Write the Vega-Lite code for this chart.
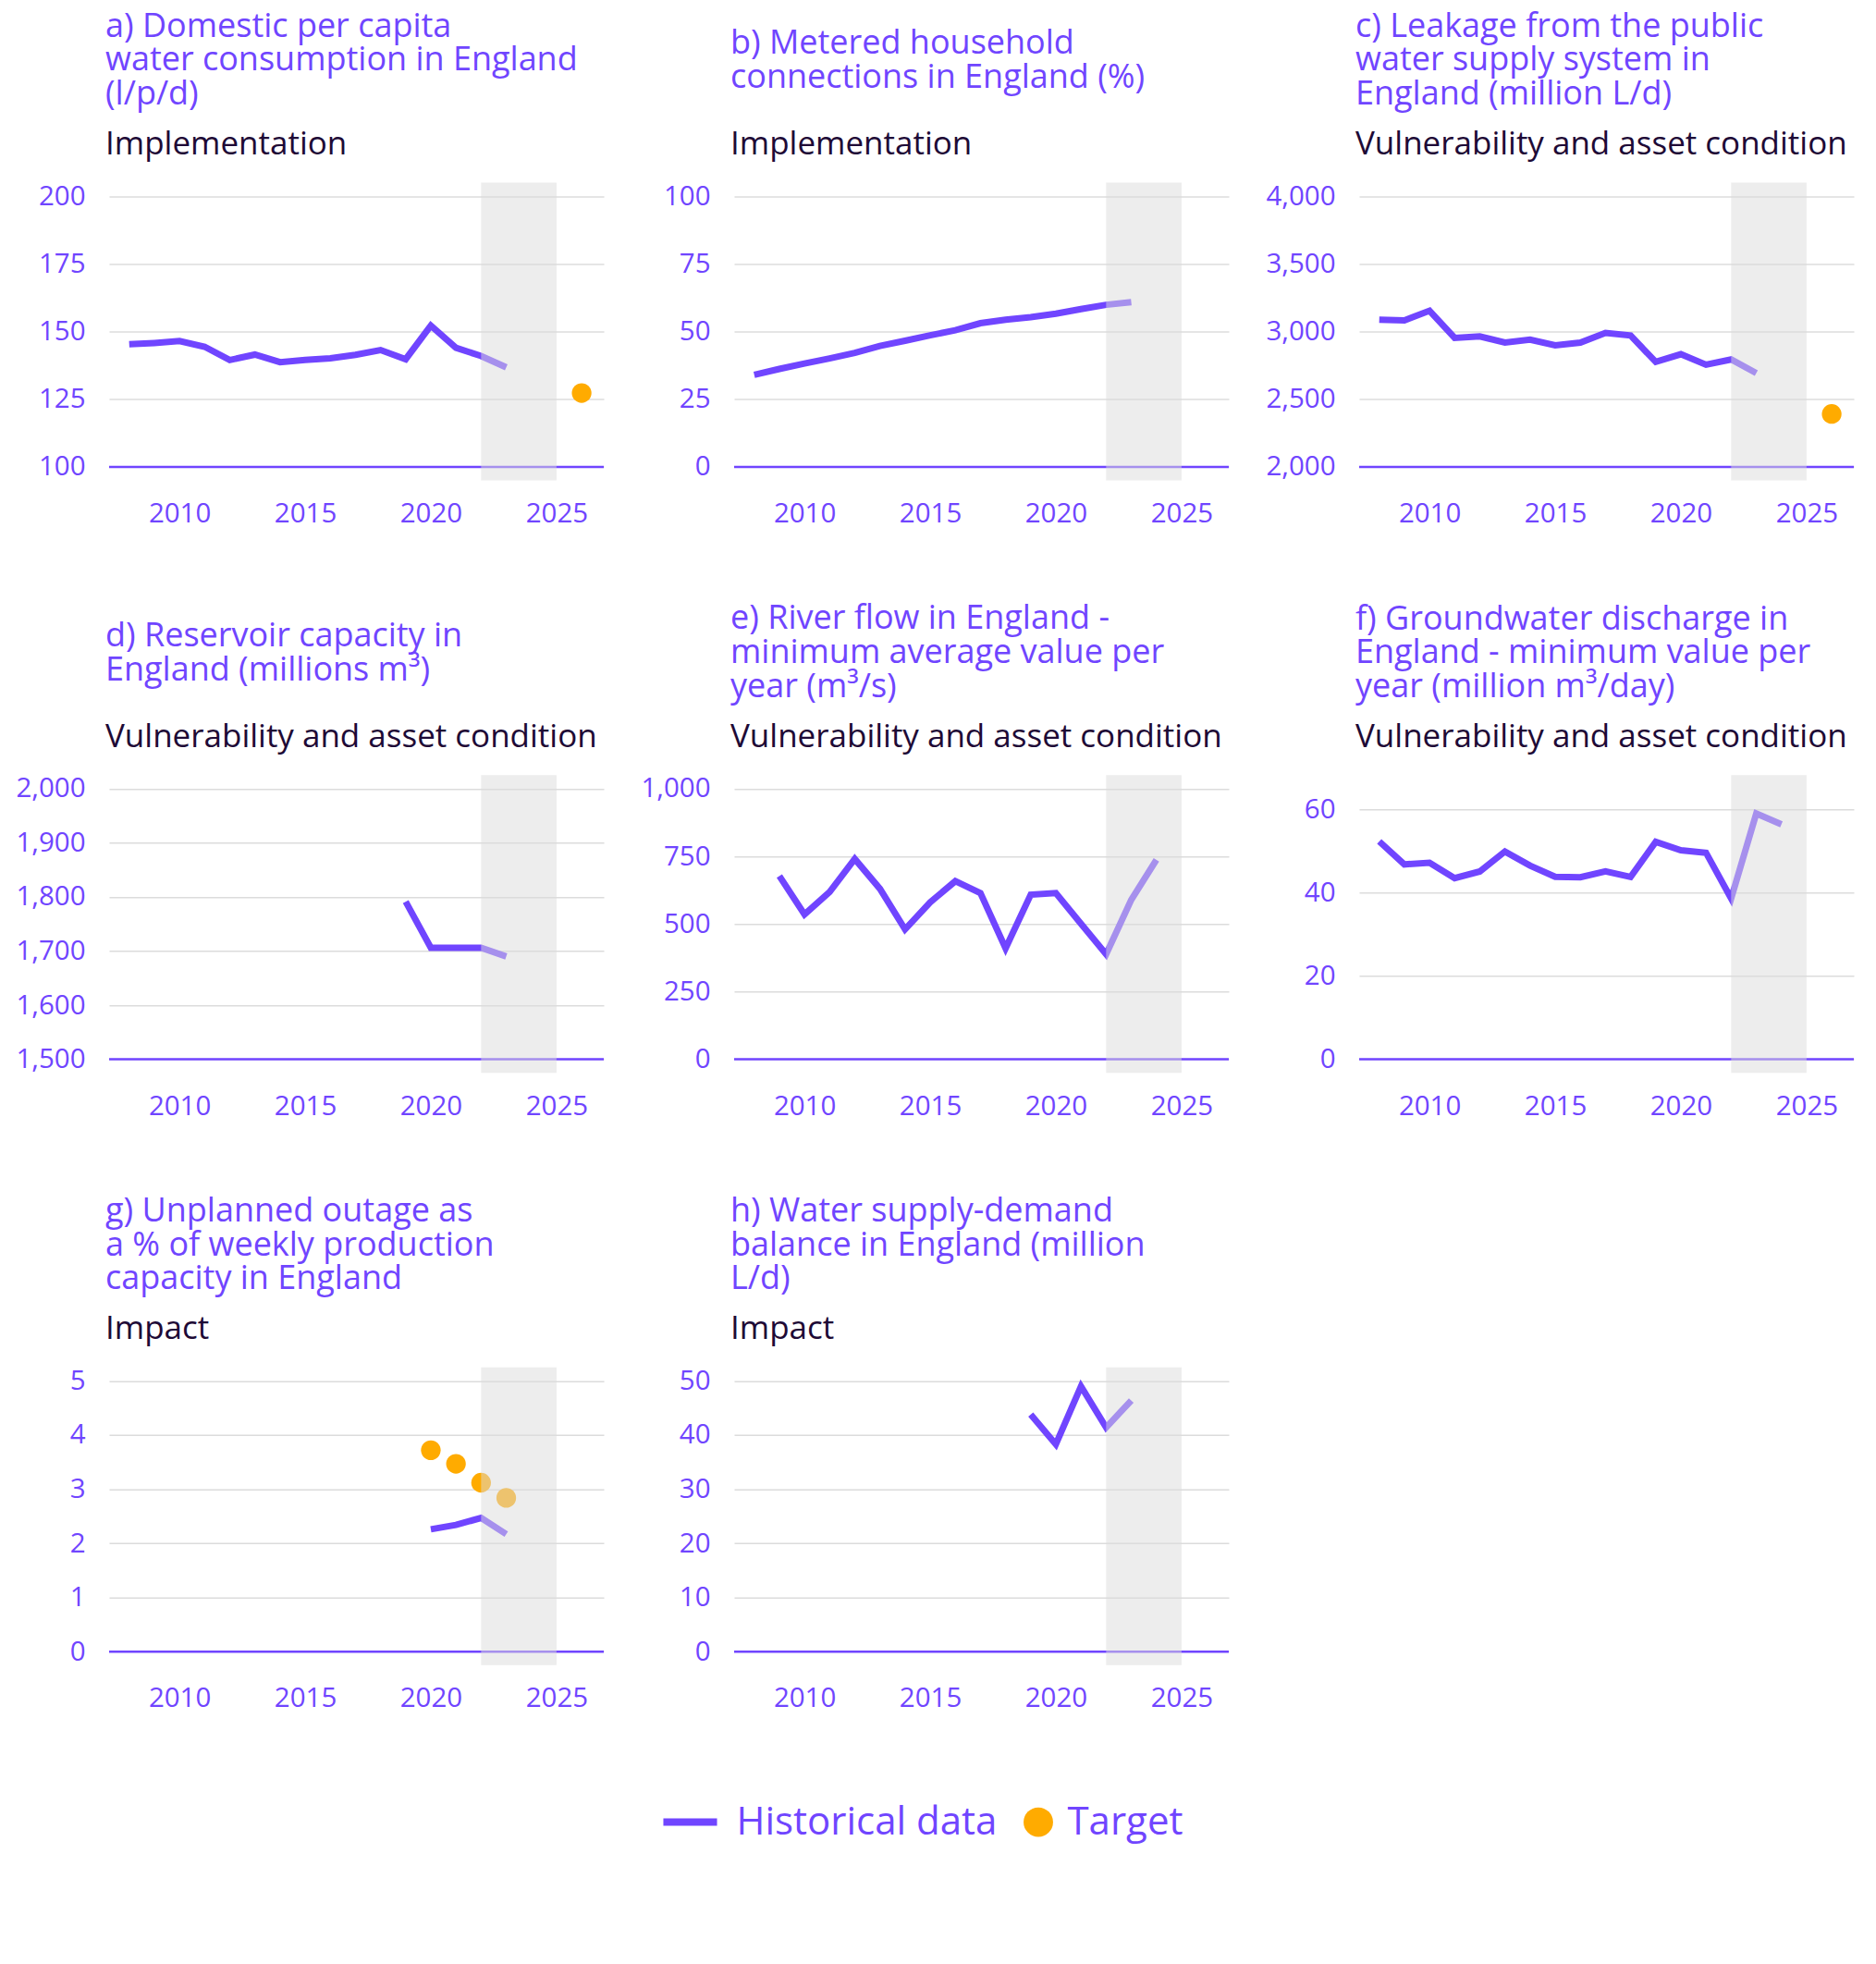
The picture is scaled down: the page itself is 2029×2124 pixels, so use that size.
{
  "$schema": "https://vega.github.io/schema/vega-lite/v6.json",
  "background": "white",
  "padding": {"left": 16, "top": 10.6, "right": 5, "bottom": 5},
  "datasets": {
    "band": [{"start": 2022, "end": 2025}],
    "a": [{"year":2008,"value":145.3},{"year":2009,"value":145.8},{"year":2010,"value":146.5},{"year":2011,"value":144.4},{"year":2012,"value":139.5},{"year":2013,"value":141.5},{"year":2014,"value":138.7},{"year":2015,"value":139.5},{"year":2016,"value":140.1},{"year":2017,"value":141.4},{"year":2018,"value":143.2},{"year":2019,"value":139.8},{"year":2020,"value":152.2},{"year":2021,"value":144.0},{"year":2022,"value":141.0},{"year":2023,"value":136.8}],
    "a_target": [{"year":2026,"value":127.3}],
    "b": [{"year":2008,"value":34.0},{"year":2009,"value":36.2},{"year":2010,"value":38.2},{"year":2011,"value":40.1},{"year":2012,"value":42.1},{"year":2013,"value":44.7},{"year":2014,"value":46.6},{"year":2015,"value":48.6},{"year":2016,"value":50.5},{"year":2017,"value":53.1},{"year":2018,"value":54.4},{"year":2019,"value":55.3},{"year":2020,"value":56.6},{"year":2021,"value":58.3},{"year":2022,"value":59.9},{"year":2023,"value":60.9}],
    "c": [{"year":2008,"value":3088},{"year":2009,"value":3083},{"year":2010,"value":3154},{"year":2011,"value":2953},{"year":2012,"value":2964},{"year":2013,"value":2919},{"year":2014,"value":2940},{"year":2015,"value":2898},{"year":2016,"value":2919},{"year":2017,"value":2990},{"year":2018,"value":2971},{"year":2019,"value":2776},{"year":2020,"value":2833},{"year":2021,"value":2755},{"year":2022,"value":2794},{"year":2023,"value":2693}],
    "c_target": [{"year":2026,"value":2391}],
    "d": [{"year":2019,"value":1791},{"year":2020,"value":1706},{"year":2021,"value":1706},{"year":2022,"value":1706},{"year":2023,"value":1690}],
    "e": [{"year":2009,"value":677},{"year":2010,"value":535},{"year":2011,"value":618},{"year":2012,"value":740},{"year":2013,"value":630},{"year":2014,"value":480},{"year":2015,"value":580},{"year":2016,"value":658},{"year":2017,"value":614},{"year":2018,"value":410},{"year":2019,"value":608},{"year":2020,"value":614},{"year":2021,"value":501},{"year":2022,"value":388},{"year":2023,"value":589},{"year":2024,"value":737}],
    "f": [{"year":2008,"value":52.3},{"year":2009,"value":46.8},{"year":2010,"value":47.2},{"year":2011,"value":43.5},{"year":2012,"value":45.1},{"year":2013,"value":49.9},{"year":2014,"value":46.5},{"year":2015,"value":43.8},{"year":2016,"value":43.7},{"year":2017,"value":45.1},{"year":2018,"value":43.8},{"year":2019,"value":52.2},{"year":2020,"value":50.2},{"year":2021,"value":49.6},{"year":2022,"value":38.6},{"year":2023,"value":59.0},{"year":2024,"value":56.4}],
    "g": [{"year":2020,"value":2.26},{"year":2021,"value":2.34},{"year":2022,"value":2.47},{"year":2023,"value":2.17}],
    "g_target": [{"year":2020,"value":3.72},{"year":2021,"value":3.47},{"year":2022,"value":3.12},{"year":2023,"value":2.84}],
    "h": [{"year":2019,"value":43.8},{"year":2020,"value":38.3},{"year":2021,"value":49.0},{"year":2022,"value":41.4},{"year":2023,"value":46.4}]
  },
  "columns": 3,
  "bounds": "flush",
  "align": "all",
  "spacing": {"row": 318.6, "column": 141},
  "concat": [
    {
      "width": 535, "height": 322,
      "title": {"text": ["a) Domestic per capita", "water consumption in England", "(l/p/d)"], "subtitle": "Implementation"},
      "layer": [
        {"data": {"name": "a"}, "mark": {"type": "line", "strokeWidth": 7},
         "encoding": {
           "x": {"field": "year", "type": "quantitative", "title": null, "scale": {"domain": [2007.2, 2026.88], "nice": false, "zero": false}, "axis": {"values": [2010, 2015, 2020, 2025], "format": "d"}},
           "y": {"field": "value", "type": "quantitative", "title": null, "scale": {"domain": [95, 205], "nice": false, "zero": false}, "axis": {"values": [100, 125, 150, 175, 200]}},
           "color": {"datum": "Historical data", "type": "nominal", "scale": {"domain": ["Historical data", "Target"], "range": ["#7045FF", "#FFAB00"]},
             "legend": {"title": null, "orient": "bottom", "direction": "horizontal", "offset": 98, "labelFontSize": 42, "labelColor": "#7045FF", "labelFont": "Open Sans", "labelLimit": 800, "symbolSize": 1018, "labelOffset": 10.5, "columnPadding": 23,
               "encode": {"symbols": {"update": {
                 "shape": {"signal": "datum.value === 'Target' ? 'circle' : 'M-2.98,-0.25H0.66V0.25H-2.98Z'"},
                 "fill": {"signal": "datum.value === 'Target' ? '#FFAB00' : '#7045FF'"},
                 "fillOpacity": {"value": 1}, "opacity": {"value": 1},
                 "stroke": {"value": "transparent"}, "strokeWidth": {"value": 0}}}}}}
         }},
        {"data": {"name": "a_target"}, "mark": {"type": "circle", "size": 452, "opacity": 1},
         "encoding": {"x": {"field": "year", "type": "quantitative", "title": null}, "y": {"field": "value", "type": "quantitative", "title": null}, "color": {"datum": "Target", "type": "nominal"}}},
        {"data": {"name": "band"}, "mark": {"type": "rule", "color": "#7045FF", "strokeWidth": 2.5},
         "encoding": {"y": {"datum": 100, "type": "quantitative", "title": null}}},
        {"data": {"name": "band"}, "mark": {"type": "rect", "color": "#dcdcdc", "opacity": 0.5},
         "encoding": {"x": {"field": "start", "type": "quantitative", "title": null}, "x2": {"field": "end"}}}
      ]
    },
    {
      "width": 535, "height": 322,
      "title": {"text": ["b) Metered household", "connections in England (%)"], "subtitle": "Implementation", "subtitlePadding": 36.3},
      "layer": [
        {"data": {"name": "b"}, "mark": {"type": "line", "strokeWidth": 7},
         "encoding": {
           "x": {"field": "year", "type": "quantitative", "title": null, "scale": {"domain": [2007.2, 2026.88], "nice": false, "zero": false}, "axis": {"values": [2010, 2015, 2020, 2025], "format": "d"}},
           "y": {"field": "value", "type": "quantitative", "title": null, "scale": {"domain": [-5, 105], "nice": false, "zero": false}, "axis": {"values": [0, 25, 50, 75, 100]}},
           "color": {"datum": "Historical data", "type": "nominal"}
         }},
        {"data": {"name": "band"}, "mark": {"type": "rule", "color": "#7045FF", "strokeWidth": 2.5},
         "encoding": {"y": {"datum": 0, "type": "quantitative", "title": null}}},
        {"data": {"name": "band"}, "mark": {"type": "rect", "color": "#dcdcdc", "opacity": 0.5},
         "encoding": {"x": {"field": "start", "type": "quantitative", "title": null}, "x2": {"field": "end"}}}
      ]
    },
    {
      "width": 535, "height": 322,
      "title": {"text": ["c) Leakage from the public", "water supply system in", "England (million L/d)"], "subtitle": "Vulnerability and asset condition"},
      "layer": [
        {"data": {"name": "c"}, "mark": {"type": "line", "strokeWidth": 7},
         "encoding": {
           "x": {"field": "year", "type": "quantitative", "title": null, "scale": {"domain": [2007.2, 2026.88], "nice": false, "zero": false}, "axis": {"values": [2010, 2015, 2020, 2025], "format": "d"}},
           "y": {"field": "value", "type": "quantitative", "title": null, "scale": {"domain": [1900, 4100], "nice": false, "zero": false}, "axis": {"values": [2000, 2500, 3000, 3500, 4000]}},
           "color": {"datum": "Historical data", "type": "nominal"}
         }},
        {"data": {"name": "c_target"}, "mark": {"type": "circle", "size": 452, "opacity": 1},
         "encoding": {"x": {"field": "year", "type": "quantitative", "title": null}, "y": {"field": "value", "type": "quantitative", "title": null}, "color": {"datum": "Target", "type": "nominal"}}},
        {"data": {"name": "band"}, "mark": {"type": "rule", "color": "#7045FF", "strokeWidth": 2.5},
         "encoding": {"y": {"datum": 2000, "type": "quantitative", "title": null}}},
        {"data": {"name": "band"}, "mark": {"type": "rect", "color": "#dcdcdc", "opacity": 0.5},
         "encoding": {"x": {"field": "start", "type": "quantitative", "title": null}, "x2": {"field": "end"}}}
      ]
    },
    {
      "width": 535, "height": 322,
      "title": {"text": ["d) Reservoir capacity in", "England (millions m³)"], "subtitle": "Vulnerability and asset condition", "subtitlePadding": 36.3},
      "layer": [
        {"data": {"name": "d"}, "mark": {"type": "line", "strokeWidth": 7},
         "encoding": {
           "x": {"field": "year", "type": "quantitative", "title": null, "scale": {"domain": [2007.2, 2026.88], "nice": false, "zero": false}, "axis": {"values": [2010, 2015, 2020, 2025], "format": "d"}},
           "y": {"field": "value", "type": "quantitative", "title": null, "scale": {"domain": [1475, 2025], "nice": false, "zero": false}, "axis": {"values": [1500, 1600, 1700, 1800, 1900, 2000]}},
           "color": {"datum": "Historical data", "type": "nominal"}
         }},
        {"data": {"name": "band"}, "mark": {"type": "rule", "color": "#7045FF", "strokeWidth": 2.5},
         "encoding": {"y": {"datum": 1500, "type": "quantitative", "title": null}}},
        {"data": {"name": "band"}, "mark": {"type": "rect", "color": "#dcdcdc", "opacity": 0.5},
         "encoding": {"x": {"field": "start", "type": "quantitative", "title": null}, "x2": {"field": "end"}}}
      ]
    },
    {
      "width": 535, "height": 322,
      "title": {"text": ["e) River flow in England -", "minimum average value per", "year (m³/s)"], "subtitle": "Vulnerability and asset condition"},
      "layer": [
        {"data": {"name": "e"}, "mark": {"type": "line", "strokeWidth": 7},
         "encoding": {
           "x": {"field": "year", "type": "quantitative", "title": null, "scale": {"domain": [2007.2, 2026.88], "nice": false, "zero": false}, "axis": {"values": [2010, 2015, 2020, 2025], "format": "d"}},
           "y": {"field": "value", "type": "quantitative", "title": null, "scale": {"domain": [-50, 1050], "nice": false, "zero": false}, "axis": {"values": [0, 250, 500, 750, 1000]}},
           "color": {"datum": "Historical data", "type": "nominal"}
         }},
        {"data": {"name": "band"}, "mark": {"type": "rule", "color": "#7045FF", "strokeWidth": 2.5},
         "encoding": {"y": {"datum": 0, "type": "quantitative", "title": null}}},
        {"data": {"name": "band"}, "mark": {"type": "rect", "color": "#dcdcdc", "opacity": 0.5},
         "encoding": {"x": {"field": "start", "type": "quantitative", "title": null}, "x2": {"field": "end"}}}
      ]
    },
    {
      "width": 535, "height": 322,
      "title": {"text": ["f) Groundwater discharge in", "England - minimum value per", "year (million m³/day)"], "subtitle": "Vulnerability and asset condition"},
      "layer": [
        {"data": {"name": "f"}, "mark": {"type": "line", "strokeWidth": 7},
         "encoding": {
           "x": {"field": "year", "type": "quantitative", "title": null, "scale": {"domain": [2007.2, 2026.88], "nice": false, "zero": false}, "axis": {"values": [2010, 2015, 2020, 2025], "format": "d"}},
           "y": {"field": "value", "type": "quantitative", "title": null, "scale": {"domain": [-3.25, 68.25], "nice": false, "zero": false}, "axis": {"values": [0, 20, 40, 60]}},
           "color": {"datum": "Historical data", "type": "nominal"}
         }},
        {"data": {"name": "band"}, "mark": {"type": "rule", "color": "#7045FF", "strokeWidth": 2.5},
         "encoding": {"y": {"datum": 0, "type": "quantitative", "title": null}}},
        {"data": {"name": "band"}, "mark": {"type": "rect", "color": "#dcdcdc", "opacity": 0.5},
         "encoding": {"x": {"field": "start", "type": "quantitative", "title": null}, "x2": {"field": "end"}}}
      ]
    },
    {
      "width": 535, "height": 322,
      "title": {"text": ["g) Unplanned outage as", "a % of weekly production", "capacity in England"], "subtitle": "Impact"},
      "layer": [
        {"data": {"name": "g"}, "mark": {"type": "line", "strokeWidth": 7},
         "encoding": {
           "x": {"field": "year", "type": "quantitative", "title": null, "scale": {"domain": [2007.2, 2026.88], "nice": false, "zero": false}, "axis": {"values": [2010, 2015, 2020, 2025], "format": "d"}},
           "y": {"field": "value", "type": "quantitative", "title": null, "scale": {"domain": [-0.25, 5.25], "nice": false, "zero": false}, "axis": {"values": [0, 1, 2, 3, 4, 5]}},
           "color": {"datum": "Historical data", "type": "nominal"}
         }},
        {"data": {"name": "g_target"}, "mark": {"type": "circle", "size": 452, "opacity": 1},
         "encoding": {"x": {"field": "year", "type": "quantitative", "title": null}, "y": {"field": "value", "type": "quantitative", "title": null}, "color": {"datum": "Target", "type": "nominal"}}},
        {"data": {"name": "band"}, "mark": {"type": "rule", "color": "#7045FF", "strokeWidth": 2.5},
         "encoding": {"y": {"datum": 0, "type": "quantitative", "title": null}}},
        {"data": {"name": "band"}, "mark": {"type": "rect", "color": "#dcdcdc", "opacity": 0.5},
         "encoding": {"x": {"field": "start", "type": "quantitative", "title": null}, "x2": {"field": "end"}}}
      ]
    },
    {
      "width": 535, "height": 322,
      "title": {"text": ["h) Water supply-demand", "balance in England (million", "L/d)"], "subtitle": "Impact"},
      "layer": [
        {"data": {"name": "h"}, "mark": {"type": "line", "strokeWidth": 7},
         "encoding": {
           "x": {"field": "year", "type": "quantitative", "title": null, "scale": {"domain": [2007.2, 2026.88], "nice": false, "zero": false}, "axis": {"values": [2010, 2015, 2020, 2025], "format": "d"}},
           "y": {"field": "value", "type": "quantitative", "title": null, "scale": {"domain": [-2.5, 52.5], "nice": false, "zero": false}, "axis": {"values": [0, 10, 20, 30, 40, 50]}},
           "color": {"datum": "Historical data", "type": "nominal"}
         }},
        {"data": {"name": "band"}, "mark": {"type": "rule", "color": "#7045FF", "strokeWidth": 2.5},
         "encoding": {"y": {"datum": 0, "type": "quantitative", "title": null}}},
        {"data": {"name": "band"}, "mark": {"type": "rect", "color": "#dcdcdc", "opacity": 0.5},
         "encoding": {"x": {"field": "start", "type": "quantitative", "title": null}, "x2": {"field": "end"}}}
      ]
    }
  ],
  "config": {
    "font": "Open Sans",
    "view": {"stroke": null},
    "axis": {"labelFont": "Open Sans", "labelFontSize": 29.5, "labelColor": "#7045FF", "domain": false, "ticks": false},
    "axisX": {"grid": false, "labelPadding": 22},
    "axisY": {"grid": true, "gridColor": "#dcdcdc", "gridWidth": 1.5, "labelPadding": 26, "format": ",.0f"},
    "legend": {"layout": {"anchor": "middle", "bottom": {"anchor": "middle"}}},
    "title": {"anchor": "start", "frame": "group", "font": "Open Sans", "fontSize": 36, "fontWeight": "normal", "color": "#7045FF", "lineHeight": 36.6, "subtitleFont": "Open Sans", "subtitleFontSize": 35, "subtitleColor": "#1E0A36", "subtitlePadding": 18.3, "offset": 22, "dx": -4}
  }
}
